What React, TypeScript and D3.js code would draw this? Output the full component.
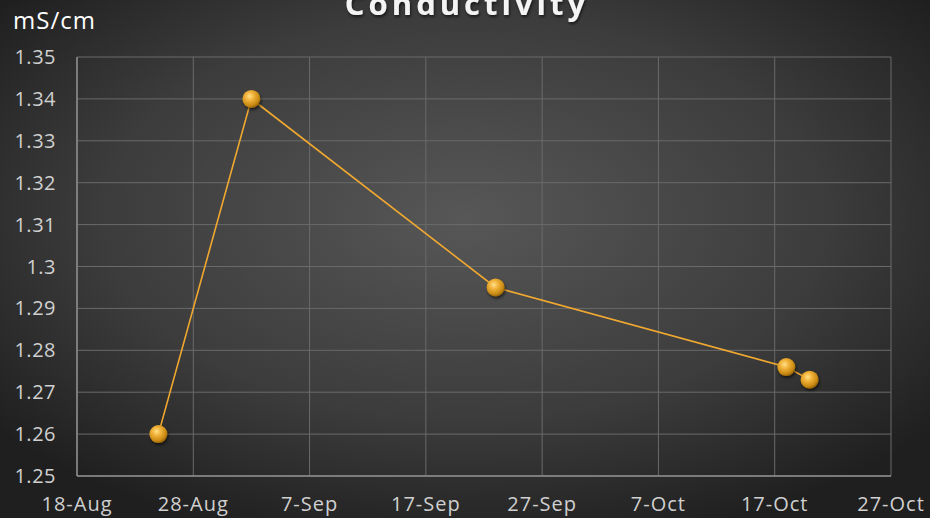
import React from "react";
import * as d3 from "d3";

const dates = ["2019-08-25", "2019-09-02", "2019-09-23", "2019-10-18", "2019-10-20"];
const values = [1.26, 1.34, 1.295, 1.276, 1.273];
const xTickDates = ["2019-08-18", "2019-08-28", "2019-09-07", "2019-09-17", "2019-09-27", "2019-10-07", "2019-10-17", "2019-10-27"];
const yTicks = [1.25, 1.26, 1.27, 1.28, 1.29, 1.3, 1.31, 1.32, 1.33, 1.34, 1.35];
const title = "Conductivity";
const unit = "mS/cm";

const W = 930, H = 518;
const left = 77, right = 891, top = 57, bottom = 476;
const parse = d3.timeParse("%Y-%m-%d");
const fmt = d3.timeFormat("%-d-%b");

export default function App() {
  const x = d3.scaleTime().domain([parse(xTickDates[0])!, parse(xTickDates[xTickDates.length - 1])!]).range([left, right]);
  const y = d3.scaleLinear().domain([1.25, 1.35]).range([bottom, top]);
  const pts = dates.map((d, i) => ({ d: parse(d)!, v: values[i] }));
  const line = d3.line<{ d: Date; v: number }>().x(p => x(p.d)).y(p => y(p.v));
  const font = "'Open Sans', 'DejaVu Sans', sans-serif";
  return (
    <svg width={W} height={H} style={{ position: "absolute", left: 0, top: 0, display: "block" }}>
      <defs>
        <radialGradient id="bg" cx="50%" cy="42%" r="65%">
          <stop offset="0%" stopColor="#575757" />
          <stop offset="60%" stopColor="#3c3c3c" />
          <stop offset="100%" stopColor="#1f1f1f" />
        </radialGradient>
        <radialGradient id="ball" cx="40%" cy="35%" r="65%">
          <stop offset="0%" stopColor="#ffe08a" />
          <stop offset="35%" stopColor="#f2b43c" />
          <stop offset="80%" stopColor="#c98a14" />
          <stop offset="100%" stopColor="#9a6608" />
        </radialGradient>
        <filter id="sh" x="-50%" y="-50%" width="200%" height="200%">
          <feGaussianBlur in="SourceAlpha" stdDeviation="1.5" />
          <feOffset dx="1" dy="2" result="b" />
          <feComponentTransfer><feFuncA type="linear" slope="0.6" /></feComponentTransfer>
          <feMerge><feMergeNode /><feMergeNode in="SourceGraphic" /></feMerge>
        </filter>
      </defs>
      <rect width={W} height={H} fill="url(#bg)" />
      <text x={W / 2 + 2} y={15} textAnchor="middle" fill="#f4f4f4" fontFamily={font} fontWeight="bold" fontSize={31} letterSpacing={4} filter="url(#sh)">{title}</text>
      <text x={13} y={29} fill="#ffffff" fontFamily={font} fontSize={24} letterSpacing={1}>{unit}</text>
      {yTicks.map(t => (
        <line key={"gy" + t} x1={left} x2={right} y1={y(t)} y2={y(t)} stroke="#6a6a6a" strokeWidth={1} />
      ))}
      {xTickDates.map(t => (
        <line key={"gx" + t} x1={x(parse(t)!)} x2={x(parse(t)!)} y1={top} y2={bottom} stroke="#6a6a6a" strokeWidth={1} />
      ))}
      <line x1={left} x2={left} y1={top} y2={bottom} stroke="#8c8c8c" strokeWidth={1.5} />
      <line x1={left} x2={right} y1={bottom} y2={bottom} stroke="#8c8c8c" strokeWidth={1.5} />
      {yTicks.map(t => (
        <text key={"ty" + t} x={56} y={y(t) + 7} textAnchor="end" fill="#d0d0d0" fontFamily={font} fontSize={20} letterSpacing={0.5}>{d3.format("")(t)}</text>
      ))}
      {xTickDates.map(t => (
        <text key={"tx" + t} x={x(parse(t)!)} y={511} textAnchor="middle" fill="#d0d0d0" fontFamily={font} fontSize={20} letterSpacing={1}>{fmt(parse(t)!)}</text>
      ))}
      <path d={line(pts)!} fill="none" stroke="#f0a830" strokeWidth={1.6} />
      {pts.map((p, i) => (
        <circle key={i} cx={x(p.d)} cy={y(p.v)} r={9} fill="url(#ball)" filter="url(#sh)" />
      ))}
    </svg>
  );
}
